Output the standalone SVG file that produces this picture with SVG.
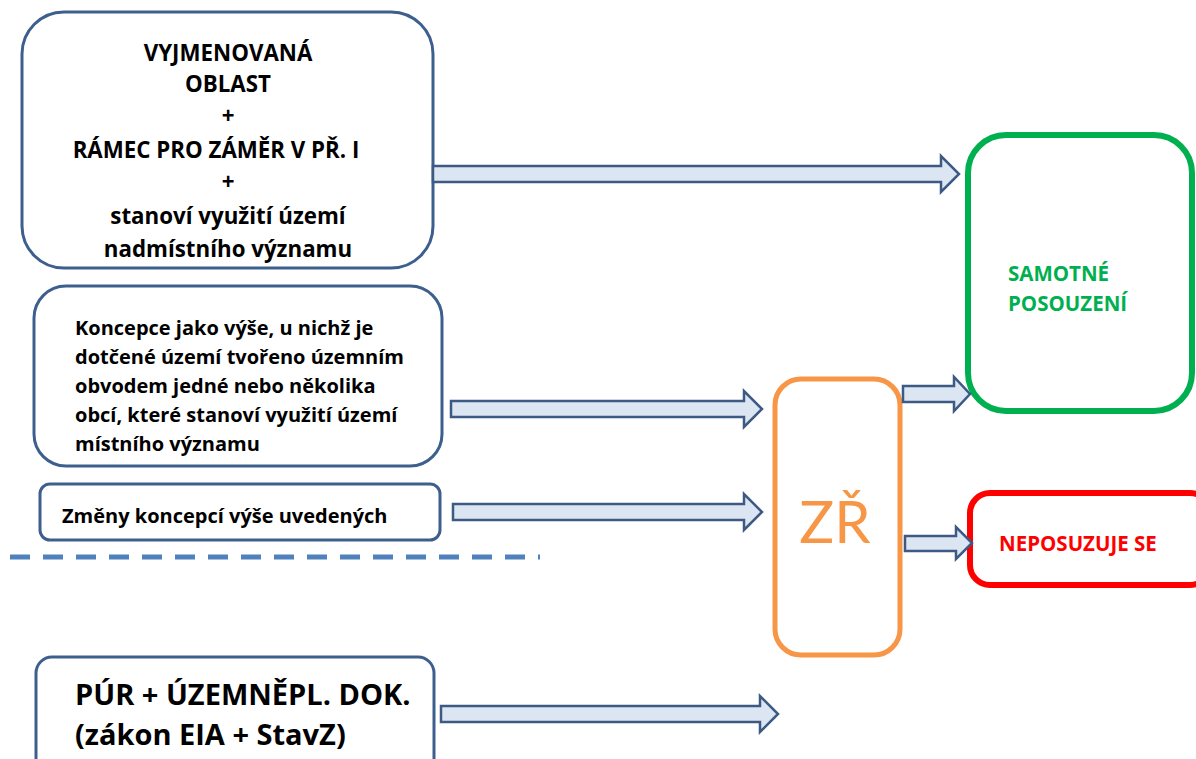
<svg xmlns="http://www.w3.org/2000/svg" width="1196" height="759" viewBox="0 0 1196 759">
<style>
.box{fill:#fff;stroke:#3d5f8e;stroke-width:3}
.arr{fill:#dce6f2;stroke:#3d5a85;stroke-width:2.5;stroke-linejoin:miter}
.t{font-family:"Open Sans",Lato,"Liberation Sans",sans-serif;font-weight:bold;fill:#000}
.c{text-anchor:middle}
</style>
<rect width="1196" height="759" fill="#fff"/>
<g id="n1">
<rect class="box" x="22" y="12" width="411" height="256" rx="42"/>
<text class="t c" font-size="22.3" x="228"><tspan x="228" y="61">VYJMENOVANÁ</tspan><tspan x="228" y="92">OBLAST</tspan><tspan x="228" y="124">+</tspan><tspan x="216" y="158">RÁMEC PRO ZÁMĚR V PŘ. I</tspan><tspan x="228" y="190">+</tspan><tspan x="228" y="224">stanoví využití území</tspan><tspan x="228" y="257">nadmístního významu</tspan></text>
</g>
<g id="n2">
<rect class="box" x="34" y="286" width="408" height="180" rx="32"/>
<text class="t" font-size="20"><tspan x="75" y="335">Koncepce jako výše, u nichž je</tspan><tspan x="75" y="364">dotčené území tvořeno územním</tspan><tspan x="75" y="393">obvodem jedné nebo několika</tspan><tspan x="75" y="422">obcí, které stanoví využití území</tspan><tspan x="75" y="451">místního významu</tspan></text>
</g>
<g id="n3">
<rect class="box" x="40" y="484" width="400" height="56" rx="10"/>
<text class="t" font-size="20" x="62" y="523">Změny koncepcí výše uvedených</text>
</g>
<g id="n4">
<rect class="box" x="36" y="657" width="398" height="120" rx="16"/>
<text class="t" font-size="29"><tspan x="75" y="705">PÚR + ÚZEMNĚPL. DOK.</tspan><tspan x="75" y="745">(zákon EIA + StavZ)</tspan></text>
</g>
<g id="zr">
<rect x="775" y="379" width="125" height="276" rx="26" fill="#fff" stroke="#f79646" stroke-width="5"/>
<text font-family="Lato,'Open Sans','Liberation Sans',sans-serif" font-size="58" fill="#f79646" text-anchor="middle" x="835" y="543">ZŘ</text>
</g>
<g id="samotne">
<rect x="968" y="135" width="224" height="276" rx="38" fill="#fff" stroke="#00b050" stroke-width="6"/>
<text class="t" font-size="20.5" style="fill:#00b050"><tspan x="1008" y="281">SAMOTNÉ</tspan><tspan x="1008" y="311">POSOUZENÍ</tspan></text>
</g>
<g id="neposuzuje">
<rect x="970" y="493" width="240" height="92" rx="20" fill="#fff" stroke="#ff0000" stroke-width="6"/>
<text class="t" font-size="20.5" style="fill:#ff0000" x="999" y="551">NEPOSUZUJE SE</text>
</g>
<g id="connectors">
<path class="arr" d="M433,166 H941 V156 L959,174 L941,192 V182 H433 Z"/>
<path class="arr" d="M451,401 H744 V391 L762,409 L744,427 V417 H451 Z"/>
<path class="arr" d="M453,504 H744 V494 L762,512 L744,530 V520 H453 Z"/>
<path class="arr" d="M441,706 H760 V696 L778,714 L760,732 V722 H441 Z"/>
<path class="arr" d="M903,386 H954 V377 L970,394 L954,411 V402 H903 Z"/>
<path class="arr" d="M905,536 H956 V527 L972,543 L956,559 V551 H905 Z"/>
<line x1="10" y1="557" x2="540" y2="557" stroke="#4f81bd" stroke-width="5" stroke-dasharray="20,13"/>
</g>
</svg>
